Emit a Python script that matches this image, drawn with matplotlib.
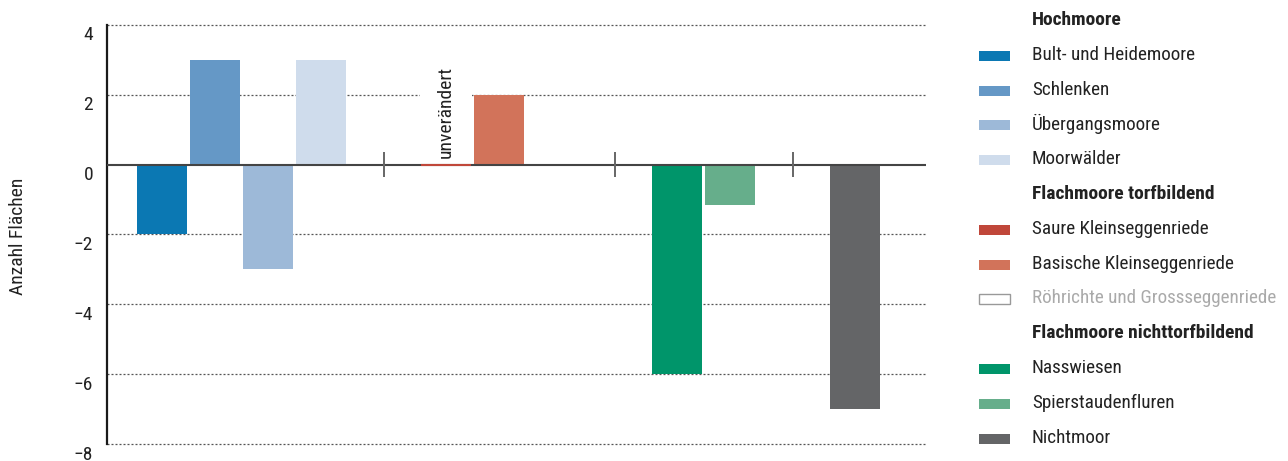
import matplotlib.pyplot as plt
import matplotlib.transforms as mtransforms
from matplotlib.patches import Rectangle

plt.rcParams['font.family'] = ['Roboto Condensed', 'Liberation Sans Narrow', 'DejaVu Sans']

# Data
categories = ["Bult- und Heidemoore", "Schlenken", "Übergangsmoore", "Moorwälder",
              "Saure Kleinseggenriede", "Basische Kleinseggenriede", "Röhrichte und Grossseggenriede",
              "Nasswiesen", "Spierstaudenfluren",
              "Nichtmoor"]
values = [-2, 3, -3, 3,
          0, 2, 0,
          -6, -1.15,
          -7]
group_sizes = [4, 3, 2, 1]
colors = ["#0b78b3", "#6598c6", "#9db9d8", "#cfdcec",
          "#c0473a", "#d2735a", "#ffffff",
          "#00956a", "#66ae8b",
          "#646567"]
yticks = [4, 2, 0, -2, -4, -6, -8]
note = "unverändert"

# Legend rows: (label, color or None for header)
legend_rows = [("Hochmoore", None), ("Bult- und Heidemoore", "#0b78b3"), ("Schlenken", "#6598c6"),
               ("Übergangsmoore", "#9db9d8"), ("Moorwälder", "#cfdcec"),
               ("Flachmoore torfbildend", None), ("Saure Kleinseggenriede", "#c0473a"),
               ("Basische Kleinseggenriede", "#d2735a"), ("Röhrichte und Grossseggenriede", "#ffffff"),
               ("Flachmoore nichttorfbildend", None), ("Nasswiesen", "#00956a"),
               ("Spierstaudenfluren", "#66ae8b"), ("Nichtmoor", "#646567")]

# x positions: slot spacing 1 inside a group, wider gap between groups
group_gap = 2.36
xpos, seps = [], []
x = 0.0
for gi, n in enumerate(group_sizes):
    if gi > 0:
        x += group_gap
        seps.append(x - group_gap / 2)
    for k in range(n):
        xpos.append(x + k)
    x += n - 1

W, H = 1288, 461
fig = plt.figure(figsize=(W / 100, H / 100), dpi=100)
ax = fig.add_axes([107 / W, (H - 444) / H, (926 - 107) / W, (444 - 25) / H])

text_col = "#222222"

# grid lines
for t in yticks:
    if t != 0:
        ax.axhline(t, color="#555555", lw=0.9, ls=(0, (1.6, 1.6)), zorder=0, clip_on=False)

bars = ax.bar(xpos, values, width=0.94, color=colors, zorder=2, linewidth=0)
# zero-change category drawn as a thin red line
bars[4].set_edgecolor(colors[4])
bars[4].set_linewidth(1.5)
bars[4].set_zorder(4)

ax.axhline(0, color="#444444", lw=1.5, zorder=3)
ax.vlines(seps, -0.36, 0.36, color="#666666", lw=1.4, zorder=3)

ax.text(xpos[4], 0.2, note, rotation=90, ha="center", va="bottom", fontsize=14, color=text_col,
        bbox=dict(facecolor="white", edgecolor="none", pad=12), zorder=2.5)

ax.set_xlim(-1.04, 14.42)
ax.set_ylim(-8, 4)
ax.set_xticks([])
ax.set_yticks(yticks)
ax.set_yticklabels(["−" + str(-t) if t < 0 else str(t) for t in yticks], fontsize=14, color=text_col)
ax.tick_params(axis="y", length=0, pad=10)
offset = mtransforms.ScaledTranslation(0, -0.085, fig.dpi_scale_trans)
for lab in ax.get_yticklabels():
    lab.set_transform(lab.get_transform() + offset)

for s in ["top", "right", "bottom"]:
    ax.spines[s].set_visible(False)
ax.spines["left"].set_color("#1a1a1a")
ax.spines["left"].set_linewidth(1.6)

fig.text(18 / W, 1 - 236 / H, "Anzahl Flächen", rotation=90, ha="center", va="center",
         fontsize=14, color=text_col)

# legend in pixel coordinates
lax = fig.add_axes([0, 0, 1, 1])
lax.set_xlim(0, W)
lax.set_ylim(H, 0)
lax.axis("off")
for i, (lab, col) in enumerate(legend_rows):
    y = 21 + 34.8 * i
    if col is None:
        lax.text(1032, y - 1, lab, fontsize=14, fontweight="bold", color=text_col, va="center")
        continue
    grey = lab.startswith("Röhrichte")
    lax.add_patch(Rectangle((979, y - 5), 31, 10, facecolor=col,
                            edgecolor="#999999" if grey else "none", lw=1))
    lax.text(1032, y - 1, lab, fontsize=13.8, color="#aaaaaa" if grey else text_col, va="center")

fig.savefig("out.png", dpi=100)
